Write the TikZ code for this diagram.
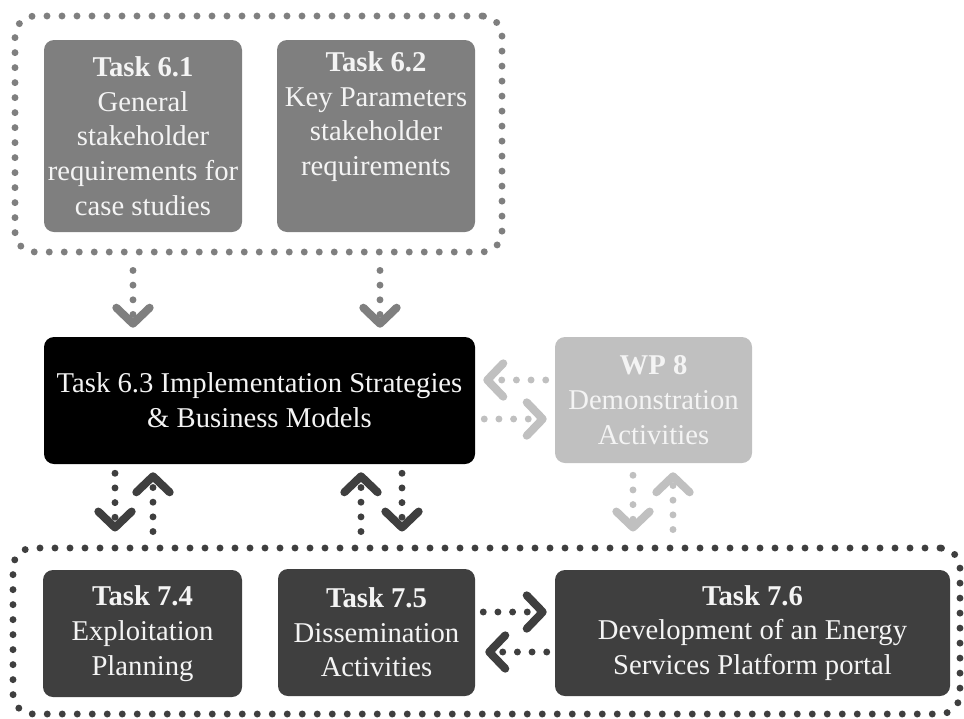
\documentclass[tikz,border=0pt]{standalone}
\usepackage{fontspec}
\setmainfont{Liberation Serif}
\usetikzlibrary{arrows.meta}
\definecolor{gmid}{HTML}{7F7F7F}
\definecolor{glight}{HTML}{C0C0C0}
\definecolor{gdark}{HTML}{3F3F3F}
\definecolor{gtxt}{HTML}{F4F4F4}
\begin{document}
\begin{tikzpicture}[x=0.75pt,y=-0.75pt,
  box/.style={rounded corners=7.5pt, inner sep=0pt, align=center, text=gtxt,
    font=\fontsize{21.5pt}{26pt}\selectfont},
  grp/.style={draw, line width=5.2pt, line cap=round, dash pattern=on 0pt off 11.25pt,
    rounded corners=15pt, inner sep=0pt},
  conn/.style={line width=5.2pt, line cap=round, dash pattern=on 0pt off 11pt,
    -{Straight Barb[length=12pt,width=25pt,line width=6pt,round]}},
]
\useasboundingbox (0,0) rectangle (964,718);

% groups
\node[grp, draw=gmid, minimum width=365.25pt, minimum height=177pt] (grp1) at (258.5,134) {};
\node[grp, draw=gdark, minimum width=710.25pt, minimum height=124.5pt] (grp2) at (486.5,631) {};

% boxes
\node[box, fill=gmid, minimum width=148.5pt, minimum height=144pt] (t61) at (143,136)
  {\textbf{Task 6.1}\\General\\stakeholder\\requirements for\\case studies};
\node[box, fill=gmid, minimum width=148.5pt, minimum height=144pt] (t62) at (376,136)
  {\textbf{Task 6.2}\\Key Parameters\\stakeholder\\requirements\\\strut};
\node[box, fill=black, minimum width=323.25pt, minimum height=95.25pt] (t63) at (259.5,400.5)
  {Task 6.3 Implementation Strategies\\\& Business Models};
\node[box, fill=glight, minimum width=147.75pt, minimum height=94.5pt] (wp8) at (653.5,400)
  {\textbf{WP 8}\\Demonstration\\Activities};
\node[box, fill=gdark, minimum width=149.25pt, minimum height=95.25pt] (t74) at (142.5,633.5)
  {\textbf{Task 7.4}\\Exploitation\\Planning};
\node[box, fill=gdark, minimum width=147.75pt, minimum height=95.25pt] (t75) at (376.5,632.5)
  {\textbf{Task 7.5}\\Dissemination\\Activities};
\node[box, fill=gdark, minimum width=296.25pt, minimum height=94.5pt] (t76) at (752.5,633)
  {\textbf{Task 7.6}\\Development of an Energy\\Services Platform portal};

% helper columns / rows
\coordinate (c1) at (133,0);
\coordinate (c2) at (380,0);
\coordinate (c3) at (115,0);
\coordinate (c4) at (153,0);
\coordinate (c5) at (361,0);
\coordinate (c6) at (402,0);
\coordinate (c7) at (633,0);
\coordinate (c8) at (673,0);
\coordinate (r1) at (0,380);
\coordinate (r2) at (0,419);
\coordinate (r3) at (0,612);
\coordinate (r4) at (0,652);

% top group -> 6.3
\draw[conn, gmid, shorten <=11.25pt, shorten >=6.75pt] (grp1.south -| c1) -- (t63.north -| c1);
\draw[conn, gmid, shorten <=11.25pt, shorten >=6.75pt] (grp1.south -| c2) -- (t63.north -| c2);

% 6.3 <-> bottom group
\draw[conn, gdark, shorten <=6.75pt, shorten >=9.75pt] (t63.south -| c3) -- (grp2.north -| c3);
\draw[conn, gdark, shorten <=9.75pt, shorten >=6pt] (grp2.north -| c4) -- (t63.south -| c4);
\draw[conn, gdark, shorten <=9.75pt, shorten >=6pt] (grp2.north -| c5) -- (t63.south -| c5);
\draw[conn, gdark, shorten <=6.75pt, shorten >=9.75pt] (t63.south -| c6) -- (grp2.north -| c6);

% WP8 <-> bottom group
\draw[conn, glight, shorten <=9pt, shorten >=9.75pt] (wp8.south -| c7) -- (grp2.north -| c7);
\draw[conn, glight, shorten <=11.25pt, shorten >=6.75pt] (grp2.north -| c8) -- (wp8.south -| c8);

% 6.3 <-> WP8
\draw[conn, glight, shorten <=6.75pt, shorten >=6pt] (wp8.west |- r1) -- (t63.east |- r1);
\draw[conn, glight, shorten <=6.75pt, shorten >=6pt] (t63.east |- r2) -- (wp8.west |- r2);

% 7.5 <-> 7.6
\draw[conn, gdark, shorten <=6pt, shorten >=6pt] (t75.east |- r3) -- (t76.west |- r3);
\draw[conn, gdark, shorten <=6pt, shorten >=7.5pt] (t76.west |- r4) -- (t75.east |- r4);
\end{tikzpicture}
\end{document}
